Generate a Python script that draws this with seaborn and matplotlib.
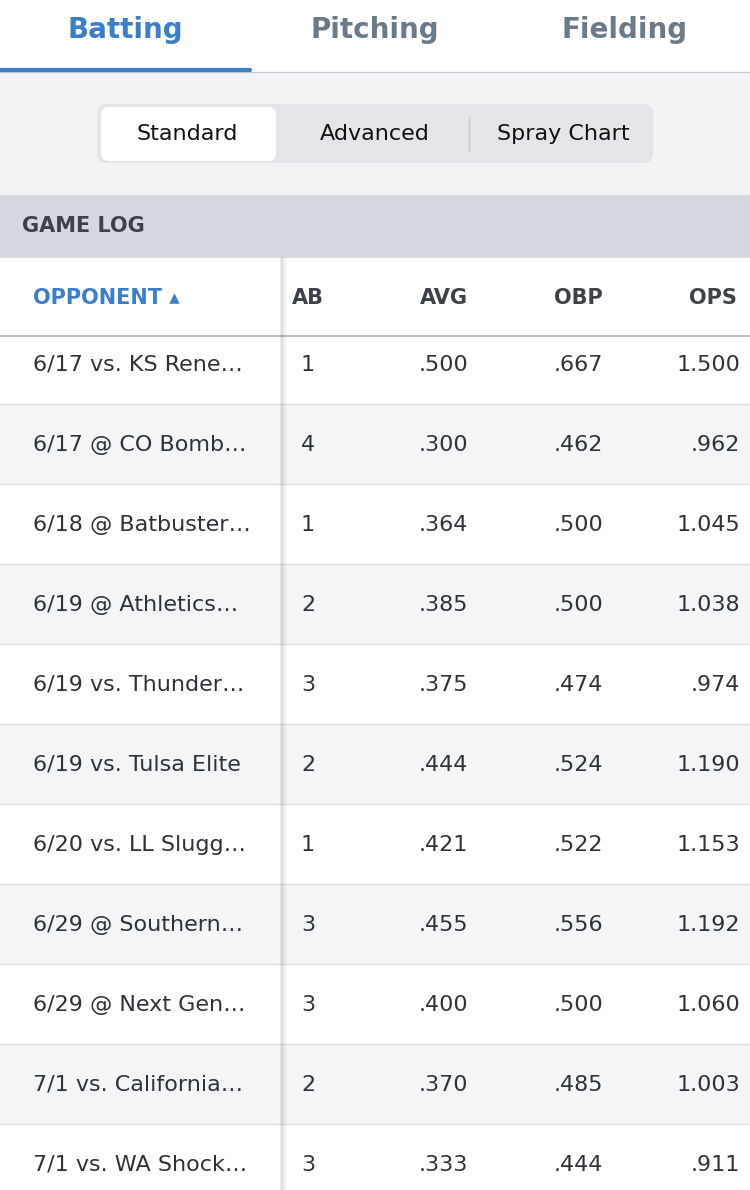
import matplotlib.pyplot as plt
import matplotlib.patches as mpatches
import seaborn as sns

tabs = ["Batting", "Pitching", "Fielding"]
segments = ["Standard", "Advanced", "Spray Chart"]
columns = ["OPPONENT", "AB", "AVG", "OBP", "OPS"]
opponents = ["6/17 vs. KS Rene…", "6/17 @ CO Bomb…", "6/18 @ Batbuster…", "6/19 @ Athletics…",
             "6/19 vs. Thunder…", "6/19 vs. Tulsa Elite", "6/20 vs. LL Slugg…", "6/29 @ Southern…",
             "6/29 @ Next Gen…", "7/1 vs. California…", "7/1 vs. WA Shock…"]
ab = [1, 4, 1, 2, 3, 2, 1, 3, 3, 2, 3]
avg = [".500", ".300", ".364", ".385", ".375", ".444", ".421", ".455", ".400", ".370", ".333"]
obp = [".667", ".462", ".500", ".500", ".474", ".524", ".522", ".556", ".500", ".485", ".444"]
ops = ["1.500", ".962", "1.045", "1.038", ".974", "1.190", "1.153", "1.192", "1.060", "1.003", ".911"]

sns.set_style("white")
plt.rcParams['font.family'] = ['DejaVu Sans']
BLUE = "#3b7fc9"
DARK = "#2e3338"
GRAY = "#6b7a88"

fig = plt.figure(figsize=(7.5, 11.9), dpi=100)
ax = fig.add_axes([0, 0, 1, 1])
ax.set_xlim(0, 750)
ax.set_ylim(1190, 0)
ax.axis("off")

# tabs
for i, t in enumerate(tabs):
    ax.text(125 + 250 * i, 30, t, ha="center", va="center", fontsize=20, fontweight="semibold",
            color=BLUE if i == 0 else GRAY)
ax.add_patch(mpatches.Rectangle((0, 72), 750, 123, color="#f2f3f5", lw=0))
ax.plot([0, 750], [71.5, 71.5], color="#c9ced3", lw=1)
ax.plot([0, 250], [69.5, 69.5], color=BLUE, lw=3)

# segmented control
ax.add_patch(mpatches.FancyBboxPatch((97, 104), 556, 59, boxstyle="round,pad=0,rounding_size=10",
                                     color="#e3e5e9", lw=0))
ax.add_patch(mpatches.FancyBboxPatch((101, 107), 175, 54, boxstyle="round,pad=0,rounding_size=8",
                                     color="white", lw=0))
for i, s in enumerate(segments):
    ax.text([187, 375, 563][i], 134, s, ha="center", va="center", fontsize=16, color="#111111")
ax.plot([469, 469], [118, 151], color="#c6cacf", lw=1)

# game log header
ax.add_patch(mpatches.Rectangle((0, 195), 750, 63, color="#d3d9df", lw=0))
ax.text(22, 226, "GAME LOG", ha="left", va="center", fontsize=15, fontweight="bold", color="#3c4248")

# rows (list scrolled slightly under the header)
for i in range(len(opponents)):
    top = 324 + 80 * i
    if i % 2 == 1:
        ax.add_patch(mpatches.Rectangle((0, top), 750, 80, color="#f4f5f7", lw=0))
    if i > 0:
        ax.plot([0, 750], [top, top], color="#dcdfe3", lw=1)
    y = top + 41
    ax.text(33, y, opponents[i], ha="left", va="center", fontsize=16, color=DARK)
    ax.text(308, y, str(ab[i]), ha="center", va="center", fontsize=16, color=DARK)
    ax.text(468, y, avg[i], ha="right", va="center", fontsize=16, color=DARK)
    ax.text(603, y, obp[i], ha="right", va="center", fontsize=16, color=DARK)
    ax.text(740, y, ops[i], ha="right", va="center", fontsize=16, color=DARK)

# column header
ax.add_patch(mpatches.Rectangle((0, 258), 750, 78, color="white", lw=0))
ax.text(33, 298, columns[0] + " ▴", ha="left", va="center", fontsize=15, fontweight="bold", color=BLUE)
ax.text(308, 298, columns[1], ha="center", va="center", fontsize=15, fontweight="bold", color="#3c4248")
for x, c in zip([468, 603, 737], columns[2:]):
    ax.text(x, 298, c, ha="right", va="center", fontsize=15, fontweight="bold", color="#3c4248")
ax.plot([0, 750], [336, 336], color="#b9c0c7", lw=1.5)

# frozen column shadow
for k, a in enumerate([0.10, 0.06, 0.03]):
    ax.plot([281 + k * 2, 281 + k * 2], [258, 1190], color="black", alpha=a, lw=2)

fig.savefig("out.png", dpi=100)
